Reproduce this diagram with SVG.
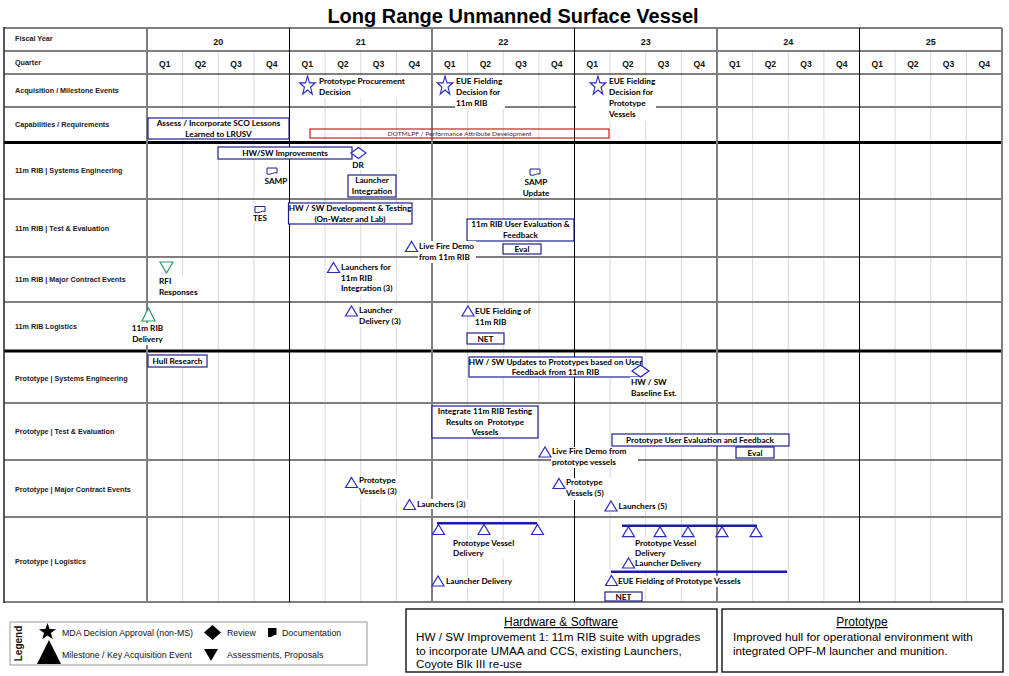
<svg xmlns="http://www.w3.org/2000/svg" width="1009" height="676" viewBox="0 0 1009 676">
<defs>
<style>
.rl{font-family:"Liberation Sans",Arial,sans-serif;font-size:7.2px;font-weight:bold;fill:#1a1a1a}
.yr{font-family:"Liberation Sans",Arial,sans-serif;font-size:9px;font-weight:bold;text-anchor:middle;fill:#111}
.q{font-family:"Liberation Sans",Arial,sans-serif;font-size:8.6px;font-weight:bold;text-anchor:middle;fill:#111}
.lb{font-family:Lato,"Liberation Sans",sans-serif;font-size:8.2px;font-weight:bold;fill:#000}
.c{text-anchor:middle}
.box{fill:#fff;stroke:#1F1F8C;stroke-width:1.2}
.tri{fill:#fff;stroke:#2A2AC4;stroke-width:1.2}
.doc{fill:#fff;stroke:#1F1F8C;stroke-width:1}
.gtri{fill:#fff;stroke:#2E9A6C;stroke-width:1.2}
.bg{fill:#fff}
.gq{stroke:#DADADA;stroke-width:1;fill:none}
.gg{stroke:#7F7F7F;stroke-width:2;fill:none}
.gb{stroke:#000;stroke-width:1;fill:none}
.gt{stroke:#000;stroke-width:3;fill:none}
.lg{font-family:"Liberation Sans",Arial,sans-serif;font-size:8.8px;fill:#111}
.nt{font-family:"Liberation Sans",Arial,sans-serif;font-size:11.7px;fill:#000}
.nh{font-family:"Liberation Sans",Arial,sans-serif;font-size:12px;fill:#000;text-anchor:middle;text-decoration:underline}
.bar{stroke:#1C1CA6;stroke-width:2.5}
</style>
<path id="tri" d="M0,-5 L6,5 L-6,5 Z"/>
<path id="star" d="M0,-9 L2.12,-2.91 L8.56,-2.78 L3.42,1.11 L5.29,7.28 L0,3.6 L-5.29,7.28 L-3.42,1.11 L-8.56,-2.78 L-2.12,-2.91 Z"/>
<path id="doc" d="M0,0 H10 V5 C7,3.5 4,7.5 0,6 Z"/>
<path id="dia" d="M-7.5,0 L0,-5.5 L7.5,0 L0,5.5 Z"/>
</defs>
<rect width="1009" height="676" fill="#fff"/>

<g id="title"><text x="513" y="23" font-family="Liberation Sans, Arial, sans-serif" font-size="20" font-weight="bold" text-anchor="middle" fill="#000">Long Range Unmanned Surface Vessel</text></g>

<g id="grid">
<path class="gq" d="M182.6,51V602M218.25,51V602M253.9,51V602M325.1,51V602M360.75,51V602M396.4,51V602M467.6,51V602M503.25,51V602M538.9,51V602M610.1,51V602M645.75,51V602M681.4,51V602M752.6,51V602M788.25,51V602M823.9,51V602M895.1,51V602M930.75,51V602M966.4,51V602"/>
<path class="gg" d="M4,28H1002M4,107H1002M4,257H1002M4,302H1002M4,403H1002M4,517H1002M4,602H1002"/>
<path class="gb" d="M4,51H1002M4,74H1002M4,199H1002M4,460H1002"/>
<path class="gt" d="M4,142.5H1002M4,351H1002"/>
<path class="gg" d="M147,28V602M432,28V602M717,28V602M1002,28V603"/>
<path class="gb" d="M289.5,28V602M574.5,28V602M859.5,28V602"/>
<path stroke="#222" stroke-width="1.5" d="M4,27V603"/>
</g>

<g id="header">
<text class="yr" x="218.25" y="45">20</text><text class="yr" x="360.75" y="45">21</text><text class="yr" x="503.25" y="45">22</text><text class="yr" x="645.75" y="45">23</text><text class="yr" x="788.25" y="45">24</text><text class="yr" x="930.75" y="45">25</text>
<text class="q" x="164.8" y="67">Q1</text><text class="q" x="200.4" y="67">Q2</text><text class="q" x="236.1" y="67">Q3</text><text class="q" x="271.7" y="67">Q4</text>
<text class="q" x="307.3" y="67">Q1</text><text class="q" x="342.9" y="67">Q2</text><text class="q" x="378.6" y="67">Q3</text><text class="q" x="414.2" y="67">Q4</text>
<text class="q" x="449.8" y="67">Q1</text><text class="q" x="485.4" y="67">Q2</text><text class="q" x="521.1" y="67">Q3</text><text class="q" x="556.7" y="67">Q4</text>
<text class="q" x="592.3" y="67">Q1</text><text class="q" x="627.9" y="67">Q2</text><text class="q" x="663.6" y="67">Q3</text><text class="q" x="699.2" y="67">Q4</text>
<text class="q" x="734.8" y="67">Q1</text><text class="q" x="770.4" y="67">Q2</text><text class="q" x="806.1" y="67">Q3</text><text class="q" x="841.7" y="67">Q4</text>
<text class="q" x="877.3" y="67">Q1</text><text class="q" x="912.9" y="67">Q2</text><text class="q" x="948.6" y="67">Q3</text><text class="q" x="984.2" y="67">Q4</text>
</g>

<g id="row-labels">
<text class="rl" x="15" y="41">Fiscal Year</text>
<text class="rl" x="15" y="64.5">Quarter</text>
<text class="rl" x="15" y="93">Acquisition / Milestone Events</text>
<text class="rl" x="15" y="127.2">Capabilities / Requirements</text>
<text class="rl" x="15" y="173.2">11m RIB | Systems Engineering</text>
<text class="rl" x="15" y="230.5">11m RIB | Test &amp; Evaluation</text>
<text class="rl" x="15" y="281.5">11m RIB | Major Contract Events</text>
<text class="rl" x="15" y="329.2">11m RIB Logistics</text>
<text class="rl" x="15" y="380.5">Prototype | Systems Engineering</text>
<text class="rl" x="15" y="434.2">Prototype | Test &amp; Evaluation</text>
<text class="rl" x="15" y="491.5">Prototype | Major Contract Events</text>
<text class="rl" x="15" y="563.5">Prototype | Logistics</text>
</g>

<g id="acq-procurement"><rect class="bg" x="318" y="76" width="90" height="22"/><use href="#star" class="tri" transform="translate(307.5,86) scale(0.9,1.12)"/><text class="lb" x="319" y="84">Prototype Procurement</text><text class="lb" x="319" y="95">Decision</text></g>
<g id="acq-eue-rib"><rect class="bg" x="455" y="76" width="50" height="33"/><use href="#star" class="tri" transform="translate(445,86) scale(0.9,1.12)"/><text class="lb" x="456" y="84">EUE Fielding</text><text class="lb" x="456" y="95">Decision for</text><text class="lb" x="456" y="106">11m RIB</text></g>
<g id="acq-eue-proto"><rect class="bg" x="576" y="104" width="80" height="6"/><rect class="bg" x="608" y="76" width="48" height="45"/><use href="#star" class="tri" transform="translate(598,86) scale(0.9,1.12)"/><text class="lb" x="609" y="84">EUE Fielding</text><text class="lb" x="609" y="95">Decision for</text><text class="lb" x="609" y="106">Prototype</text><text class="lb" x="609" y="117">Vessels</text></g>

<g id="cap-assess"><rect class="box" x="148" y="118" width="141" height="21"/><text class="lb c" x="218.5" y="126">Assess / Incorporate SCO Lessons</text><text class="lb c" x="218.5" y="137">Learned to LRUSV</text></g>
<g id="cap-dotmlpf"><rect x="310" y="129" width="299" height="9" fill="none" stroke="#C42020" stroke-width="1.2"/><text x="459.5" y="135.8" font-family="Lato, Liberation Sans, sans-serif" font-size="6" fill="#333" text-anchor="middle" textLength="144" lengthAdjust="spacingAndGlyphs">DOTMLPF / Performance Attribute Development</text></g>

<g id="se-hwsw"><rect class="box" x="218" y="147" width="134" height="12"/><text class="lb c" x="285" y="155.5">HW/SW Improvements</text></g>
<g id="se-dr"><rect class="bg" x="350" y="160" width="16" height="10"/><use href="#dia" class="tri" transform="translate(358.5,153)"/><text class="lb c" x="358" y="168">DR</text></g>
<g id="se-samp"><rect class="bg" x="265" y="176" width="24" height="10"/><use href="#doc" class="doc" x="267" y="168"/><text class="lb c" x="276" y="183.5">SAMP</text></g>
<g id="se-launcher"><rect class="box" x="348" y="175" width="48" height="22"/><text class="lb c" x="372" y="183">Launcher</text><text class="lb c" x="372" y="194">Integration</text></g>
<g id="se-samp-update"><rect class="bg" x="522" y="176" width="30" height="22"/><use href="#doc" class="doc" x="530" y="169"/><text class="lb c" x="536" y="184.5">SAMP</text><text class="lb c" x="536" y="195.5">Update</text></g>

<g id="te-tes"><rect class="bg" x="252" y="213" width="17" height="10"/><use href="#doc" class="doc" x="255" y="206.5"/><text class="lb c" x="260" y="221">TES</text></g>
<g id="te-hwsw"><rect class="box" x="288.5" y="203" width="123.5" height="21"/><text class="lb c" x="350" y="211">HW / SW Development &amp; Testing</text><text class="lb c" x="350" y="222">(On-Water and Lab)</text></g>
<g id="te-user"><rect class="box" x="467" y="219" width="107" height="22"/><text class="lb c" x="520.5" y="227">11m RIB User Evaluation &amp;</text><text class="lb c" x="520.5" y="238">Feedback</text></g>
<g id="te-eval"><rect class="box" x="503" y="244" width="38" height="10"/><text class="lb c" x="522" y="252">Eval</text></g>
<g id="te-livefire"><rect class="bg" x="418" y="241" width="58" height="22"/><use href="#tri" class="tri" x="411.5" y="246.5"/><text class="lb" x="419" y="249">Live Fire Demo</text><text class="lb" x="419" y="259.5">from 11m RIB</text></g>

<g id="mce-rfi"><rect class="bg" x="158" y="276" width="42" height="22"/><path class="gtri" d="M160,262H173L166.5,273Z"/><text class="lb" x="159" y="283.5">RFI</text><text class="lb" x="159" y="294.5">Responses</text></g>
<g id="mce-launchers"><rect class="bg" x="340" y="262" width="56" height="33"/><use href="#tri" class="tri" x="333.5" y="267.5"/><text class="lb" x="341" y="269.5">Launchers for</text><text class="lb" x="341" y="280.5">11m RIB</text><text class="lb" x="341" y="291">Integration (3)</text></g>

<g id="log-rib-delivery"><rect class="bg" x="132" y="323" width="31" height="22"/><path class="gtri" d="M148.5,308L155,321H142Z"/><text class="lb c" x="147.5" y="331">11m RIB</text><text class="lb c" x="147.5" y="342">Delivery</text></g>
<g id="log-launcher"><rect class="bg" x="358" y="305" width="46" height="22"/><use href="#tri" class="tri" x="351.5" y="311"/><text class="lb" x="359" y="313">Launcher</text><text class="lb" x="359" y="324">Delivery (3)</text></g>
<g id="log-eue"><rect class="bg" x="474" y="306" width="62" height="22"/><use href="#tri" class="tri" x="468" y="311"/><text class="lb" x="475" y="314">EUE Fielding of</text><text class="lb" x="475" y="325">11m RIB</text><rect class="box" x="467" y="333" width="37" height="11"/><text class="lb c" x="485.5" y="341.5">NET</text></g>

<g id="pse-hull"><rect class="box" x="148" y="355" width="59" height="12"/><text class="lb c" x="177.5" y="363.5">Hull Research</text></g>
<g id="pse-updates"><rect class="box" x="469" y="357" width="173" height="20"/><text class="lb c" x="555.5" y="364.5">HW / SW Updates to Prototypes based on User</text><text class="lb c" x="555.5" y="374.5">Feedback from 11m RIB</text></g>
<g id="pse-baseline"><rect class="bg" x="630" y="377" width="50" height="22"/><use href="#dia" class="tri" transform="translate(640.5,371) scale(1.13,1.09)"/><text class="lb" x="631" y="384.5">HW / SW</text><text class="lb" x="631" y="396">Baseline Est.</text></g>

<g id="pte-integrate"><rect class="box" x="432" y="406" width="106" height="32"/><text class="lb c" x="485" y="414">Integrate 11m RIB Testing</text><text class="lb c" x="485" y="425">Results on &#160;Prototype</text><text class="lb c" x="485" y="435">Vessels</text></g>
<g id="pte-user"><rect class="box" x="612" y="434" width="177" height="12"/><text class="lb c" x="700" y="442.5">Prototype User Evaluation and Feedback</text></g>
<g id="pte-eval"><rect class="box" x="736" y="447" width="38" height="11"/><text class="lb c" x="755" y="455.5">Eval</text></g>
<g id="pte-livefire"><rect class="bg" x="551" y="447" width="87" height="21"/><use href="#tri" class="tri" x="545" y="452"/><text class="lb" x="552" y="454">Live Fire Demo from</text><text class="lb" x="552" y="465">prototype vessels</text></g>

<g id="pmce-vessels3"><rect class="bg" x="358" y="476" width="46" height="22"/><use href="#tri" class="tri" x="351.5" y="482.5"/><text class="lb" x="359" y="483">Prototype</text><text class="lb" x="359" y="494">Vessels (3)</text></g>
<g id="pmce-vessels5"><rect class="bg" x="565" y="478" width="46" height="22"/><use href="#tri" class="tri" x="559" y="483.5"/><text class="lb" x="566" y="485">Prototype</text><text class="lb" x="566" y="496">Vessels (5)</text></g>
<g id="pmce-launchers3"><rect class="bg" x="416" y="499" width="52" height="10"/><use href="#tri" class="tri" x="409.5" y="504.5"/><text class="lb" x="417" y="506.5">Launchers (3)</text></g>
<g id="pmce-launchers5"><rect class="bg" x="617" y="501" width="52" height="10"/><use href="#tri" class="tri" x="611" y="506"/><text class="lb" x="618.5" y="508.5">Launchers (5)</text></g>

<g id="plog-vessel1"><rect class="bg" x="452" y="539" width="64" height="20"/><use href="#tri" class="tri" x="438.5" y="529.5"/><use href="#tri" class="tri" x="484" y="529.5"/><use href="#tri" class="tri" x="537.5" y="529.5"/><text class="lb" x="453" y="546">Prototype Vessel</text><text class="lb" x="453" y="556">Delivery</text></g>
<g id="plog-launcher1"><rect class="bg" x="445" y="576" width="70" height="11"/><use href="#tri" class="tri" x="438" y="581"/><text class="lb" x="446" y="583.5">Launcher Delivery</text></g>
<g id="plog-vessel2"><rect class="bg" x="634" y="537.5" width="66" height="21"/><use href="#tri" class="tri" x="628.5" y="531.7"/><use href="#tri" class="tri" x="660" y="531.7"/><use href="#tri" class="tri" x="688" y="531.7"/><use href="#tri" class="tri" x="722" y="531.7"/><use href="#tri" class="tri" x="756" y="531.7"/><text class="lb" x="635" y="545.5">Prototype Vessel</text><text class="lb" x="635" y="556">Delivery</text></g>
<g id="plog-launcher2"><rect class="bg" x="634" y="559" width="68" height="10"/><use href="#tri" class="tri" x="628.5" y="563"/><text class="lb" x="635" y="566">Launcher Delivery</text></g>
<g id="plog-eue"><rect class="bg" x="617" y="576" width="124" height="11"/><use href="#tri" class="tri" x="611.5" y="580.5"/><text class="lb" x="618" y="584">EUE Fielding of Prototype Vessels</text><rect class="box" x="605" y="592" width="37" height="9"/><text class="lb c" x="623.5" y="599.5">NET</text></g>

<g id="connectors">
<line class="bar" x1="437" y1="523.3" x2="537" y2="523.3"/>
<line class="bar" x1="622" y1="525.7" x2="757" y2="525.7"/>
<line class="bar" x1="611" y1="571.7" x2="787" y2="571.7"/>
</g>

<g id="legend">
<rect x="10" y="622" width="357" height="43" fill="#fff" stroke="#999" stroke-width="1"/>
<text x="0" y="0" transform="translate(22,643.5) rotate(-90)" font-family="Liberation Sans, Arial, sans-serif" font-size="10" font-weight="bold" text-anchor="middle" fill="#111">Legend</text>
<use href="#star" fill="#000" x="47.5" y="632"/>
<path d="M49,640L61,664H37Z" fill="#000"/>
<path d="M212.5,625L221,632.5L212.5,640L204,632.5Z" fill="#000"/>
<path d="M204,649H218L211,661Z" fill="#000"/>
<path d="M268,628H276.5V635C274.5,634 272,638 268,637Z" fill="#000"/>
<text class="lg" x="62" y="636">MDA Decision Approval (non-MS)</text>
<text class="lg" x="62" y="657.5">Milestone / Key Acquisition Event</text>
<text class="lg" x="227" y="636">Review</text>
<text class="lg" x="227" y="657.5">Assessments, Proposals</text>
<text class="lg" x="282" y="636">Documentation</text>
</g>

<g id="note-hw-sw">
<rect x="406" y="609" width="311" height="63" fill="#fff" stroke="#000" stroke-width="1.3"/>
<text class="nh" x="561" y="626">Hardware &amp; Software</text>
<text class="nt" x="416" y="641">HW / SW Improvement 1: 11m RIB suite with upgrades</text>
<text class="nt" x="416" y="655">to incorporate UMAA and CCS, existing Launchers,</text>
<text class="nt" x="416" y="668">Coyote Blk III re-use</text>
</g>

<g id="note-prototype">
<rect x="722" y="609" width="281" height="63" fill="#fff" stroke="#000" stroke-width="1.3"/>
<text class="nh" x="862" y="626">Prototype</text>
<text class="nt" x="733" y="641">Improved hull for operational environment with</text>
<text class="nt" x="733" y="654.5">integrated OPF-M launcher and munition.</text>
</g>
</svg>
